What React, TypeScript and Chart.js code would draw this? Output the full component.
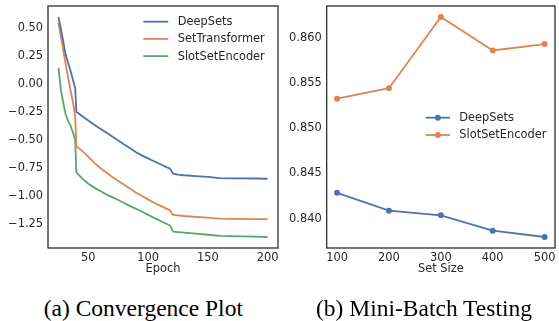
import React, { useEffect, useRef } from "react";
import { Chart, registerables } from "chart.js";
Chart.register(...registerables);

// ---------- (a) Convergence plot data ----------
const epochs = [25, 27, 29, 31, 33, 35, 37, 38, 39, 40, 41, 45, 50, 55, 60, 65, 70, 75, 80, 85, 90, 95, 100, 105, 110, 115, 118, 119, 120, 121, 125, 130, 140, 150, 160, 170, 180, 190, 200];
const deepSetsLoss = [0.595, 0.49, 0.38, 0.26, 0.19, 0.12, 0.04, 0.0, -0.04, -0.25, -0.258, -0.29, -0.327, -0.365, -0.4, -0.435, -0.47, -0.505, -0.54, -0.575, -0.61, -0.64, -0.665, -0.69, -0.715, -0.74, -0.755, -0.765, -0.785, -0.8, -0.81, -0.815, -0.822, -0.83, -0.84, -0.842, -0.843, -0.844, -0.846];
const setTransformerLoss = [0.545, 0.42, 0.3, 0.18, 0.06, -0.05, -0.16, -0.22, -0.29, -0.555, -0.565, -0.6, -0.65, -0.705, -0.75, -0.79, -0.83, -0.865, -0.9, -0.935, -0.97, -1.0, -1.03, -1.06, -1.085, -1.11, -1.125, -1.135, -1.16, -1.168, -1.172, -1.178, -1.185, -1.193, -1.202, -1.203, -1.204, -1.205, -1.205];
const slotSetEncoderLoss = [0.14, -0.05, -0.17, -0.27, -0.33, -0.37, -0.43, -0.465, -0.5, -0.79, -0.8, -0.845, -0.89, -0.925, -0.955, -0.985, -1.01, -1.035, -1.062, -1.09, -1.115, -1.14, -1.168, -1.195, -1.22, -1.245, -1.26, -1.27, -1.3, -1.318, -1.322, -1.326, -1.335, -1.345, -1.355, -1.358, -1.36, -1.362, -1.365];
const epochTicks = [50, 100, 150, 200];
const lossTicks = [-1.25, -1.0, -0.75, -0.5, -0.25, 0, 0.25, 0.5];

// ---------- (b) Mini-batch testing data ----------
const setSizes = [100, 200, 300, 400, 500];
const deepSetsAcc = [0.84286, 0.84089, 0.84037, 0.83867, 0.83797];
const slotSetEncoderAcc = [0.85329, 0.85444, 0.86233, 0.85862, 0.85933];
const setSizeTicks = [100, 200, 300, 400, 500];
const accTicks = [0.84, 0.845, 0.85, 0.855, 0.86];

const BLUE = "#4C72B0";
const ORANGE = "#DD8452";
const GREEN = "#55A868";
const INK = "#262626";
const FONT = "'DejaVu Sans'";
const FS = 11.4;

const padRange = (vals: number[]) => {
  const lo = Math.min(...vals);
  const hi = Math.max(...vals);
  const m = (hi - lo) * 0.05;
  return [lo - m, hi + m];
};

const framePlugin = {
  id: "frame",
  afterDatasetsDraw(chart: any) {
    const { ctx, chartArea } = chart;
    const { left, top, right, bottom } = chartArea;
    ctx.save();
    ctx.strokeStyle = INK;
    ctx.lineWidth = 1.25;
    ctx.strokeRect(left, top, right - left, bottom - top);
    ctx.restore();
  },
};

const legendPlugin = {
  id: "mplLegend",
  afterDraw(chart: any, _args: any, opts: any) {
    const { ctx } = chart;
    ctx.save();
    ctx.font = `${FS}px ${FONT}`;
    ctx.textBaseline = "middle";
    ctx.textAlign = "left";
    chart.data.datasets.forEach((ds: any, i: number) => {
      const y = opts.y + i * opts.rowH;
      ctx.strokeStyle = ds.borderColor;
      ctx.lineWidth = ds.borderWidth;
      ctx.beginPath();
      ctx.moveTo(opts.x, y);
      ctx.lineTo(opts.x + opts.handle, y);
      ctx.stroke();
      if (opts.marker) {
        ctx.fillStyle = ds.borderColor;
        ctx.beginPath();
        ctx.arc(opts.x + opts.handle / 2, y, 3, 0, Math.PI * 2);
        ctx.fill();
      }
      ctx.fillStyle = INK;
      ctx.fillText(ds.label, opts.x + opts.handle + opts.gap, y + 0.5);
    });
    ctx.restore();
  },
};

function makeScales(xRange: number[], yRange: number[], xTicks: number[], yTicks: number[], xTitle: string, yFmt: (v: number) => string, yWidth: number) {
  return {
    x: {
      type: "linear",
      min: xRange[0],
      max: xRange[1],
      grid: { display: false, drawTicks: false },
      border: { display: false },
      ticks: { color: INK, font: { family: FONT, size: FS }, padding: 3, maxRotation: 0, autoSkip: false, callback: (v: number) => String(v) },
      afterBuildTicks: (s: any) => {
        s.ticks = xTicks.map((v) => ({ value: v }));
      },
      afterFit: (s: any) => {
        s.height = 32;
        s.paddingLeft = 0;
        s.paddingRight = 0;
      },
      title: { display: true, text: xTitle, color: INK, font: { family: FONT, size: FS }, padding: { top: 0, bottom: 4 } },
    },
    y: {
      type: "linear",
      min: yRange[0],
      max: yRange[1],
      grid: { display: false, drawTicks: false },
      border: { display: false },
      ticks: { color: INK, font: { family: FONT, size: FS }, padding: 5, autoSkip: false, callback: (v: number) => yFmt(v) },
      afterBuildTicks: (s: any) => {
        s.ticks = yTicks.map((v) => ({ value: v }));
      },
      afterFit: (s: any) => {
        s.width = yWidth;
        s.paddingTop = 0;
        s.paddingBottom = 0;
      },
    },
  };
}

function ConvergenceChart() {
  const ref = useRef<HTMLCanvasElement>(null);
  useEffect(() => {
    const series = [
      { label: "DeepSets", values: deepSetsLoss, color: BLUE },
      { label: "SetTransformer", values: setTransformerLoss, color: ORANGE },
      { label: "SlotSetEncoder", values: slotSetEncoderLoss, color: GREEN },
    ];
    const all = [...deepSetsLoss, ...setTransformerLoss, ...slotSetEncoderLoss];
    const chart = new Chart(ref.current!, {
      type: "line",
      data: {
        datasets: series.map((s) => ({
          label: s.label,
          data: epochs.map((e, i) => ({ x: e, y: s.values[i] })),
          borderColor: s.color,
          backgroundColor: s.color,
          borderWidth: 1.8,
          pointRadius: 0,
          tension: 0,
        })),
      },
      options: {
        responsive: false,
        animation: false,
        devicePixelRatio: 1,
        layout: { padding: { top: 6, right: 2, left: 0, bottom: 0 } },
        plugins: {
          legend: { display: false },
          tooltip: { enabled: false },
          mplLegend: { x: 143.3, y: 21.7, rowH: 17.2, handle: 25, gap: 9.4, marker: false },
        } as any,
        scales: makeScales(padRange(epochs), padRange(all), epochTicks, lossTicks, "Epoch", (v) => (v < 0 ? "\u2212" : "") + Math.abs(v).toFixed(2), 48) as any,
      },
      plugins: [framePlugin, legendPlugin],
    });
    return () => chart.destroy();
  }, []);
  return <canvas ref={ref} width={280} height={280} style={{ position: "absolute", left: 0, top: 0 }} />;
}

function MiniBatchChart() {
  const ref = useRef<HTMLCanvasElement>(null);
  useEffect(() => {
    const series = [
      { label: "DeepSets", values: deepSetsAcc, color: BLUE },
      { label: "SlotSetEncoder", values: slotSetEncoderAcc, color: ORANGE },
    ];
    const all = [...deepSetsAcc, ...slotSetEncoderAcc];
    const chart = new Chart(ref.current!, {
      type: "line",
      data: {
        datasets: series.map((s) => ({
          label: s.label,
          data: setSizes.map((x, i) => ({ x, y: s.values[i] })),
          borderColor: s.color,
          backgroundColor: s.color,
          pointBackgroundColor: s.color,
          borderWidth: 1.8,
          pointRadius: 3,
          pointBorderWidth: 0,
          tension: 0,
          clip: false,
        })),
      },
      options: {
        responsive: false,
        animation: false,
        devicePixelRatio: 1,
        layout: { padding: { top: 6, right: 0.5, left: 0, bottom: 0 } },
        plugins: {
          legend: { display: false },
          tooltip: { enabled: false },
          mplLegend: { x: 146.7, y: 117.7, rowH: 17.3, handle: 24.3, gap: 9.3, marker: true },
        } as any,
        scales: makeScales(padRange(setSizes), padRange(all), setSizeTicks, accTicks, "Set Size", (v) => v.toFixed(3), 47.7) as any,
      },
      plugins: [framePlugin, legendPlugin],
    });
    return () => chart.destroy();
  }, []);
  return <canvas ref={ref} width={280} height={280} style={{ position: "absolute", left: 279, top: 0 }} />;
}

const captionStyle = (center: number): React.CSSProperties => ({
  position: "absolute",
  left: center - 150,
  width: 300,
  top: 297,
  textAlign: "center",
  fontFamily: "'Liberation Serif', serif",
  fontSize: 23.5,
  lineHeight: 1,
  color: "#000",
  whiteSpace: "nowrap",
});

export default function App() {
  return (
    <div style={{ position: "absolute", left: 0, top: 0, width: 559, height: 321, background: "#fff", overflow: "hidden" }}>
      <ConvergenceChart />
      <MiniBatchChart />
      <div style={captionStyle(143.3)}>(a) Convergence Plot</div>
      <div style={captionStyle(424)}>(b) Mini-Batch Testing</div>
    </div>
  );
}
